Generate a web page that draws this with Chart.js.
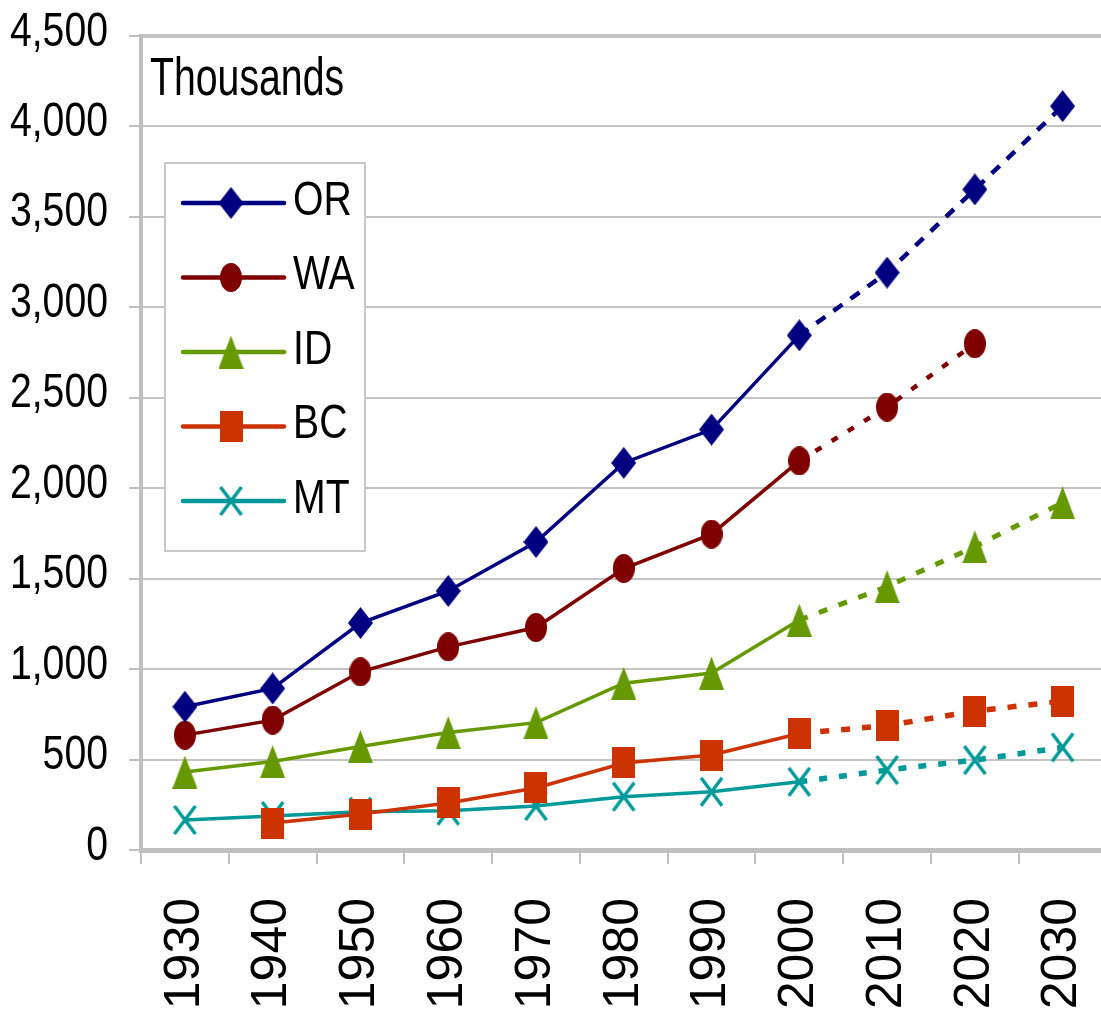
<!DOCTYPE html>
<html>
<head>
<meta charset="utf-8">
<title>Population, Thousands</title>
<script src="https://cdn.jsdelivr.net/npm/chart.js@4/dist/chart.umd.min.js"></script>
<style>
  html, body { margin: 0; padding: 0; background: #fff; overflow: hidden; }
  canvas { display: block; }
</style>
</head>
<body>
<canvas id="c" width="1122" height="1013"></canvas>
<script>
// Census years and projections (values in thousands)
const years = ['1930', '1940', '1950', '1960', '1970', '1980', '1990', '2000', '2010', '2020', '2030'];
const projectionFrom = '2000';
const seriesNames = ['OR', 'WA', 'ID', 'BC', 'MT'];
const orValues = [792, 893, 1255, 1432, 1703, 2140, 2324, 2845, 3192, 3652, 4112];
const waValues = [635, 718, 985, 1123, 1230, 1556, 1746, 2151, 2449, 2799, null];
const idValues = [431, 489, 572, 649, 704, 922, 978, 1271, 1456, 1677, 1920];
const bcValues = [null, 149, 199, 260, 343, 481, 525, 644, 688, 768, 823];
const mtValues = [166, 188, 212, 217, 243, 295, 322, 377, 442, 497, 567];
const yTicks = { min: 0, max: 4500, step: 500 };
const unitLabel = 'Thousands';

const REGULAR = "'Liberation Sans', Arial, sans-serif";

// Horizontally condensed text (narrow face look)
function narrowText(g, text, x, y, size, sx, align, baseline) {
  g.save();
  g.font = size + 'px ' + REGULAR;
  g.textAlign = align;
  g.textBaseline = baseline;
  g.translate(x, y);
  g.scale(sx, 1);
  g.fillText(text, 0, 0);
  g.restore();
}

// Marker sprites (slightly taller than wide)
function sprite(w, h, draw) {
  const c = document.createElement('canvas');
  c.width = w; c.height = h;
  draw(c.getContext('2d'), w, h);
  return c;
}
function diamond(color) {
  return sprite(25, 32, (g, w, h) => {
    g.fillStyle = color; g.beginPath();
    g.moveTo(w / 2, 0); g.lineTo(w, h / 2); g.lineTo(w / 2, h); g.lineTo(0, h / 2);
    g.closePath(); g.fill();
  });
}
function oval(color) {
  return sprite(22, 29, (g, w, h) => {
    g.fillStyle = color; g.beginPath();
    g.ellipse(w / 2, h / 2, w / 2, h / 2, 0, 0, Math.PI * 2); g.fill();
  });
}
function triangle(color) {
  return sprite(25, 33, (g, w, h) => {
    g.fillStyle = color; g.beginPath();
    g.moveTo(w / 2, 0); g.lineTo(w, h); g.lineTo(0, h); g.closePath(); g.fill();
  });
}
function square(color) {
  return sprite(23, 31, (g, w, h) => { g.fillStyle = color; g.fillRect(0, 0, w, h); });
}
function cross(color) {
  return sprite(25, 32, (g, w, h) => {
    g.strokeStyle = color; g.lineWidth = 3.5; g.lineCap = 'butt';
    g.beginPath();
    g.moveTo(2, 2); g.lineTo(w - 2, h - 2);
    g.moveTo(w - 2, 2); g.lineTo(2, h - 2);
    g.stroke();
  });
}

const styles = {
  OR: { color: '#000080', marker: diamond, dash: [11, 10], projWidth: 4.5 },
  WA: { color: '#7f0000', marker: oval, dash: [7, 12], projWidth: 4.5 },
  ID: { color: '#669900', marker: triangle, dash: [9, 12], projWidth: 5 },
  BC: { color: '#cc3300', marker: square, dash: [9, 12], projWidth: 5.5 },
  MT: { color: '#009999', marker: cross, dash: [8, 12], projWidth: 5.5 }
};
const valuesByName = { OR: orValues, WA: waValues, ID: idValues, BC: bcValues, MT: mtValues };
const projIndex = years.indexOf(projectionFrom);
const solidWidth = 3.5;

const datasets = seriesNames.map(name => {
  const s = styles[name];
  const img = s.marker(s.color);
  s.img = img;
  return {
    label: name,
    data: valuesByName[name],
    borderColor: s.color,
    backgroundColor: s.color,
    borderWidth: solidWidth,
    pointStyle: img,
    pointRadius: 12,
    pointHoverRadius: 12,
    tension: 0,
    segment: {
      borderDash: ctx => ctx.p0DataIndex >= projIndex ? s.dash : undefined,
      borderWidth: ctx => ctx.p0DataIndex >= projIndex ? s.projWidth : solidWidth
    }
  };
});

// Value-axis labels, unit caption and the legend box inside the plot
const annotations = {
  id: 'annotations',
  afterDraw(chart) {
    const g = chart.ctx;
    const a = chart.chartArea;
    const yScale = chart.scales.y;
    g.save();
    g.fillStyle = '#000';

    // y tick labels, taken from the scale's own ticks
    yScale.ticks.forEach((t, i) => {
      const py = yScale.getPixelForTick(i);
      const text = t.label != null ? String(t.label) : t.value.toLocaleString('en-US');
      narrowText(g, text, a.left - 33, py - 4, 49, 0.8, 'right', 'middle');
    });

    // unit caption
    narrowText(g, unitLabel, a.left + 9, 95, 53, 0.74, 'left', 'alphabetic');

    // legend frame
    const bx = a.left + 24, by = 163, bw = 200, bh = 388;
    g.fillStyle = '#fff';
    g.fillRect(bx, by, bw, bh);
    g.strokeStyle = '#c8c8c8';
    g.lineWidth = 2;
    g.strokeRect(bx, by, bw, bh);

    seriesNames.forEach((name, i) => {
      const s = styles[name];
      const y = by + 40 + i * 74.5;
      g.strokeStyle = s.color;
      g.lineWidth = 4.5;
      g.lineCap = 'round';
      g.beginPath();
      g.moveTo(bx + 18, y);
      g.lineTo(bx + 119, y);
      g.stroke();
      g.drawImage(s.img, bx + 66 - s.img.width / 2, y - s.img.height / 2);
      g.fillStyle = '#000';
      narrowText(g, name, bx + 128, y - 2, 49, 0.8, 'left', 'middle');
    });
    g.restore();
  }
};

new Chart(document.getElementById('c'), {
  type: 'line',
  data: { labels: years, datasets },
  options: {
    responsive: false,
    animation: false,
    layout: { padding: { top: 36, right: 2, left: 0, bottom: 0 } },
    plugins: { legend: { display: false }, tooltip: { enabled: false } },
    scales: {
      x: {
        offset: true,
        grid: {
          display: true,
          offset: true,
          drawOnChartArea: false,
          drawTicks: true,
          tickLength: 14,
          color: '#bfbfbf',
          lineWidth: 2
        },
        border: { display: true, color: '#bfbfbf', width: 5 },
        ticks: {
          autoSkip: false,
          minRotation: 90,
          maxRotation: 90,
          padding: 34,
          color: '#000',
          font: { family: REGULAR, size: 50 }
        },
        afterFit(scale) {
          scale.height = 163;
          scale.paddingLeft = 0;
          scale.paddingRight = 0;
        }
      },
      y: {
        min: yTicks.min,
        max: yTicks.max,
        grid: {
          color: '#c4c4c4',
          lineWidth: ctx => (ctx.tick && ctx.tick.value === yTicks.max) ? 4 : 2,
          tickLength: 12,
          tickWidth: 2,
          tickColor: '#bfbfbf'
        },
        border: { display: true, color: '#bfbfbf', width: 4 },
        ticks: {
          display: false,
          stepSize: yTicks.step
        },
        afterFit(scale) {
          scale.width = 141;
          scale.paddingTop = 0;
          scale.paddingBottom = 0;
        }
      }
    }
  },
  plugins: [annotations]
});
</script>
</body>
</html>
